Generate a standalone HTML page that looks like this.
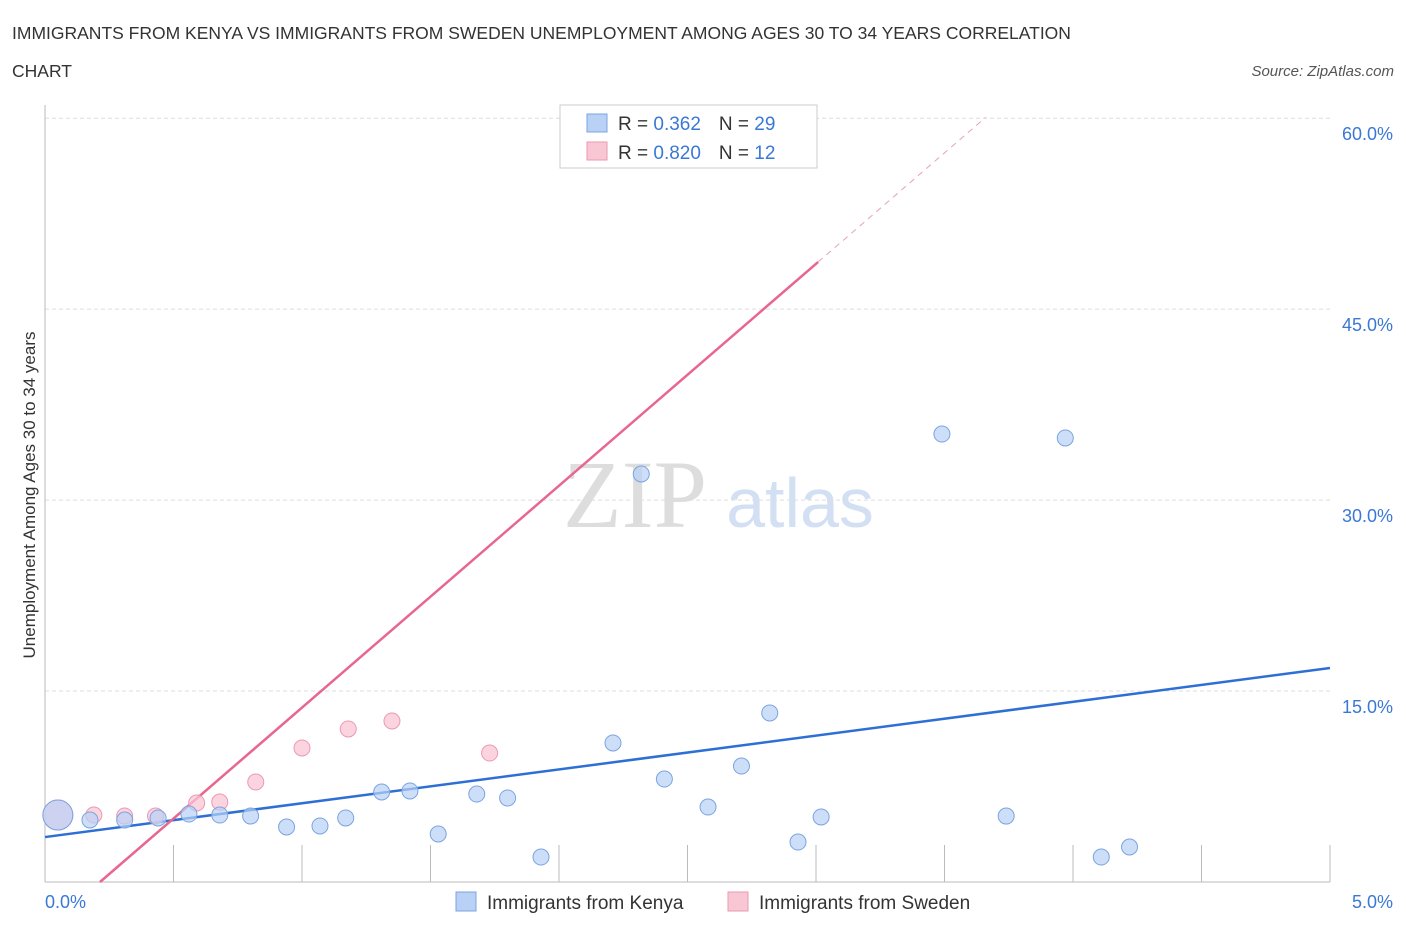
<!DOCTYPE html>
<html><head><meta charset="utf-8"><style>
body{margin:0;background:#fff;font-family:"Liberation Sans",sans-serif;}
svg{display:block}
</style></head><body>
<svg id="c" width="1406" height="930">
<text x="12" y="39" font-size="17.5" fill="#333">IMMIGRANTS FROM KENYA VS IMMIGRANTS FROM SWEDEN UNEMPLOYMENT AMONG AGES 30 TO 34 YEARS CORRELATION</text>
<text x="12" y="77" font-size="17.5" fill="#333">CHART</text>
<text x="1394" y="76" font-size="15" fill="#555" font-style="italic" text-anchor="end">Source: ZipAtlas.com</text>
<text x="35" y="495" font-size="17" fill="#333" text-anchor="middle" transform="rotate(-90 35 495)">Unemployment Among Ages 30 to 34 years</text>
<text x="635" y="527" font-size="96" fill="#ddd" font-family="Liberation Serif,serif" text-anchor="middle">ZIP</text>
<text x="800" y="527" font-size="70" fill="#d3e0f3" text-anchor="middle">atlas</text>
<g id="grid"></g><g id="lines"></g><g id="pts"></g>
<g>
<rect x="560" y="105" width="257" height="63" fill="#fff" stroke="#ccc"/>
<rect x="587" y="114" width="20" height="18" fill="#b8d1f5" stroke="#7aa4e0"/>
<rect x="587" y="142" width="20" height="18" fill="#f9c6d4" stroke="#e99ab2"/>
<text x="618" y="130" font-size="19" fill="#333">R = <tspan fill="#3a78d6">0.362</tspan><tspan dx="18">N = </tspan><tspan fill="#3a78d6">29</tspan></text>
<text x="618" y="159" font-size="19" fill="#333">R = <tspan fill="#3a78d6">0.820</tspan><tspan dx="18">N = </tspan><tspan fill="#3a78d6"> 12</tspan></text>
</g>
<g>
<rect x="456" y="892" width="20" height="19" fill="#b8d1f5" stroke="#7aa4e0"/>
<text x="487" y="909" font-size="19" fill="#333">Immigrants from Kenya</text>
<rect x="728" y="892" width="20" height="19" fill="#f9c6d4" stroke="#e99ab2"/>
<text x="759" y="909" font-size="19" fill="#333">Immigrants from Sweden</text>
</g>
</svg>
<script>
const yTicks=[15,30,45,60];
const xLabels=["0.0%","5.0%"];
const kenyaX=[0.05,0.175,0.31,0.44,0.56,0.68,0.80,0.94,1.07,1.17,1.31,1.42,1.53,1.68,1.80,1.93,2.21,2.32,2.41,2.58,2.71,2.82,2.93,3.02,3.49,3.74,3.97,4.11,4.22];
const kenyaY=[5.26,4.87,4.87,5.03,5.34,5.26,5.18,4.32,4.40,5.03,7.07,7.15,3.77,6.91,6.60,1.96,10.92,32.05,8.09,5.89,9.11,13.28,3.14,5.11,35.19,5.18,34.88,1.96,2.75];
const swedenX=[0.05,0.19,0.31,0.43,0.59,0.68,0.82,1.00,1.18,1.35,1.73,2.57];
const swedenY=[5.26,5.26,5.18,5.18,6.21,6.28,7.86,10.53,12.02,12.65,10.13,60.17];
const kenyaLine=[3.53,16.81];
const swedenLine=[0.214,17.43];
const X=v=>45+v*257, Y=v=>882-v*12.73;
const NS="http://www.w3.org/2000/svg";
function mk(t,a,p){const e=document.createElementNS(NS,t);for(const k in a)e.setAttribute(k,a[k]);p.appendChild(e);return e;}
const g=document.getElementById('grid');
yTicks.forEach(t=>{
 const l=mk('line',{x1:45,x2:1330,y1:Y(t),y2:Y(t),stroke:'#ddd','stroke-dasharray':'4,3'},g);
 
 
 const tx=mk('text',{x:1393,y:Y(t)+22,'font-size':18,fill:'#3a78d6','text-anchor':'end'},g);
 tx.textContent=t.toFixed(1)+'%';
 
 
});
const ax=mk('line',{x1:45,x2:45,y1:105,y2:882,stroke:'#bbb'},g);


const bx=mk('line',{x1:45,x2:1330,y1:882,y2:882,stroke:'#bbb'},g);


for(let i=1;i<=10;i++){const t=mk('line',{x1:X(i*0.5),x2:X(i*0.5),y1:845,y2:882,stroke:'#bbb'},g);
 
 }
[[xLabels[0],45,'start'],[xLabels[1],1393,'end']].forEach(([s,x,a])=>{const t=mk('text',{x:x,y:908,'font-size':18,fill:'#3a78d6','text-anchor':a},g);t.textContent=s;
 
 });
const L=document.getElementById('lines');
const bl=mk('line',{x1:X(0),y1:Y(kenyaLine[0]),x2:X(5),y2:Y(kenyaLine[0]+(kenyaLine[1]-kenyaLine[0])),stroke:'#2e6fd6','stroke-width':2.5},L);


const sy=x=>(x-swedenLine[0])*swedenLine[1];
const pl=mk('line',{x1:X(swedenLine[0]),y1:Y(0),x2:X(3.008),y2:Y(sy(3.008)),stroke:'#e8668f','stroke-width':2.5},L);


const pd=mk('line',{x1:X(3.008),y1:Y(sy(3.008)),x2:X(3.66),y2:Y(sy(3.66)),stroke:'#e8a0b6','stroke-width':1,'stroke-dasharray':'6,5'},L);


const P=document.getElementById('pts');
swedenX.forEach((x,i)=>{const c=mk('circle',{cx:X(x),cy:Y(swedenY[i]),r:i==0?15:8,fill:'#f9c6d4','fill-opacity':0.75,stroke:'#e99ab2'},P);
 
 });
kenyaX.forEach((x,i)=>{const c=mk('circle',{cx:X(x),cy:Y(kenyaY[i]),r:i==0?15:8,fill:'#b8d1f5','fill-opacity':0.7,stroke:'#7aa4e0'},P);
 
 });
</script>
</body></html>
